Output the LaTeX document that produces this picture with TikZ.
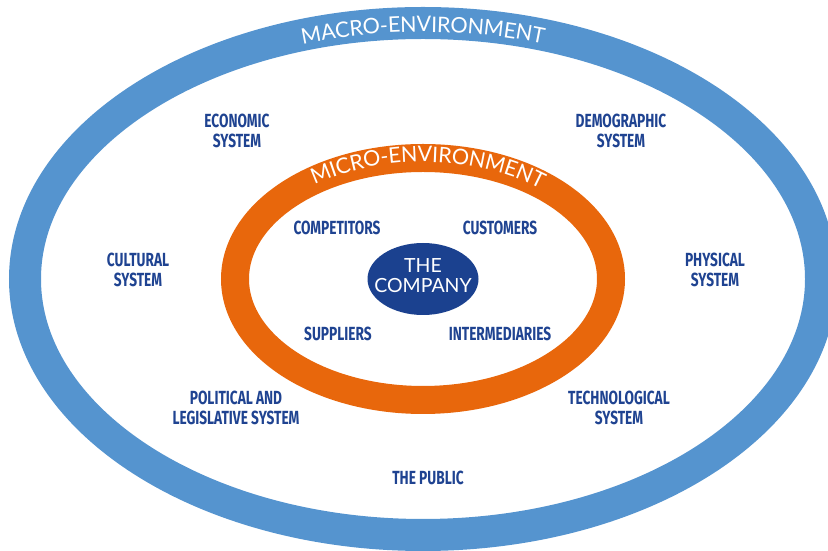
\documentclass[tikz,border=0pt]{standalone}
\usepackage{fontspec}
\usepackage{tikz}
\usetikzlibrary{calc,decorations.text}
\newfontfamily\lblfont{Fira Sans}[FakeStretch=0.72]
\newfontfamily\ringfont{Lato}
\definecolor{macroblue}{HTML}{5594CF}
\definecolor{microorange}{HTML}{E8670C}
\definecolor{companyblue}{HTML}{1B418F}
\definecolor{labelblue}{HTML}{1F4391}

\begin{document}
\begin{tikzpicture}[x=1pt,y=1pt,
        every node/.style={align=center,inner sep=0pt},
        env/.style={font=\lblfont\bfseries\fontsize{19}{20.5}\selectfont,text=labelblue},
        ringtext/.style 2 args={decorate,decoration={text along path,text align=center,raise=#2,
            text={|\ringfont\fontsize{21.5}{21.5}\selectfont\color{white}|#1}}}]

    \useasboundingbox (0,0) rectangle (828,551);
    \coordinate (c) at (423,272);

    \draw[macroblue,line width=32pt] (c) ellipse [x radius=398,y radius=256];
    \draw[microorange,line width=28pt] (c) ellipse [x radius=188,y radius=121];
    \fill[companyblue] (c) ellipse [x radius=55.5,y radius=36];

    \path[ringtext={MACRO-ENVIRONMENT}{-9pt}] ($(c)+(135:398 and 256)$) arc [start angle=135,end angle=45,x radius=398,y radius=256];
    \path[ringtext={MICRO-ENVIRONMENT}{-4pt}] ($(c)+(140:188 and 121)$) arc [start angle=140,end angle=36,x radius=188,y radius=121];

    \node[font=\ringfont\fontsize{19.5}{20}\selectfont,text=white] (company) at (423,275.5) {THE\\COMPANY};

    \node[env] (competitors) at (337,323) {COMPETITORS};
    \node[env] (customers) at (500,323) {CUSTOMERS};
    \node[env] (suppliers) at (338,217) {SUPPLIERS};
    \node[env] (intermediaries) at (500,217) {INTERMEDIARIES};

    \node[env] (economic) at (237,420) {ECONOMIC\\SYSTEM};
    \node[env] (demographic) at (621,420) {DEMOGRAPHIC\\SYSTEM};
    \node[env] (cultural) at (138,281) {CULTURAL\\SYSTEM};
    \node[env] (physical) at (715,281) {PHYSICAL\\SYSTEM};
    \node[env] (political) at (236,143) {POLITICAL AND\\LEGISLATIVE SYSTEM};
    \node[env] (technological) at (619,143) {TECHNOLOGICAL\\SYSTEM};
    \node[env] (public) at (428,73) {THE PUBLIC};
\end{tikzpicture}
\end{document}
